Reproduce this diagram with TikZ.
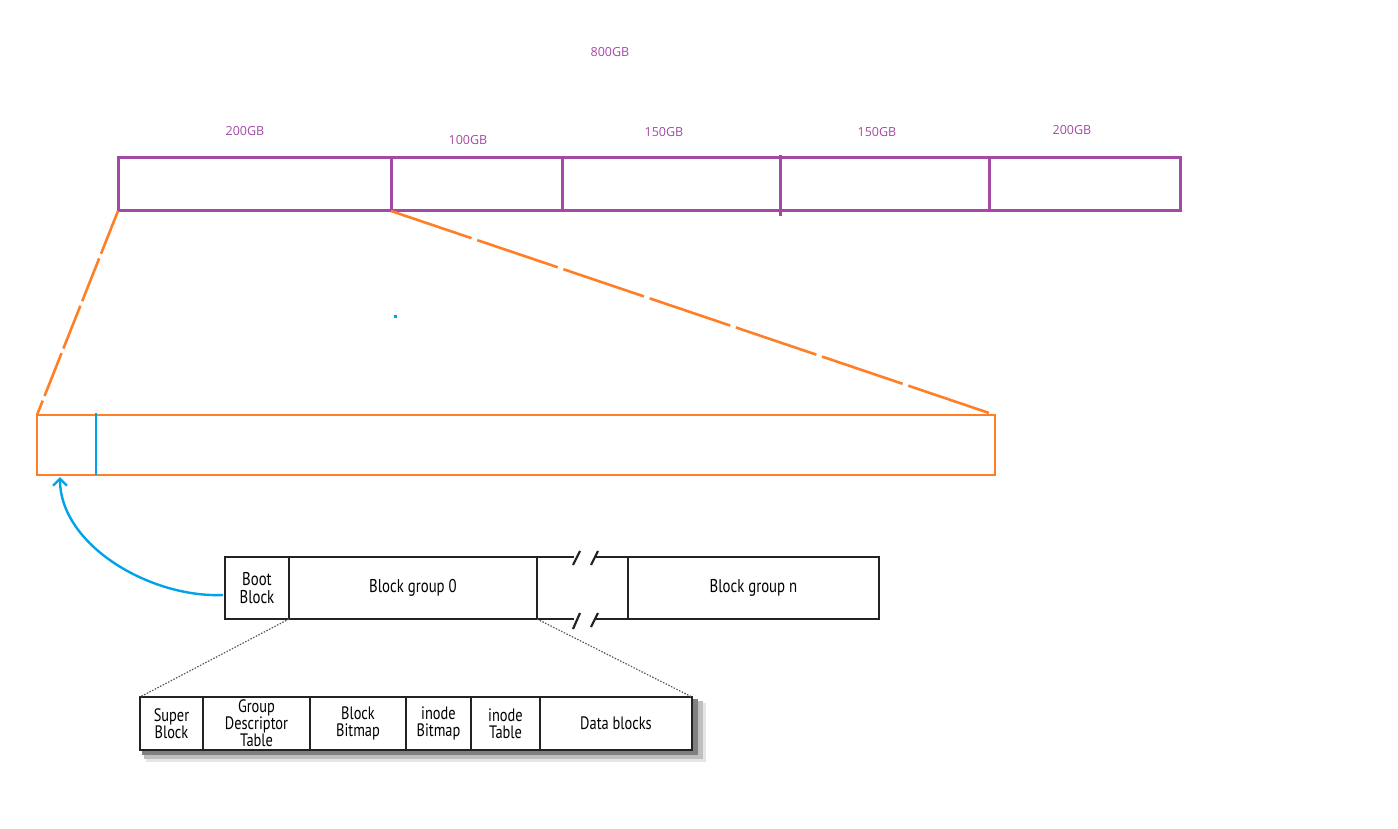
\documentclass[tikz,border=0pt]{standalone}
\usepackage{fontspec}
\setmainfont{Open Sans}
\newfontfamily\condfont[FakeStretch=0.8]{PT Sans}
\usetikzlibrary{arrows.meta,calc}
\definecolor{ppl}{HTML}{A349A4}
\definecolor{org}{HTML}{FF7F27}
\definecolor{blu}{HTML}{00A2E8}
\definecolor{ink}{HTML}{222222}
\begin{document}
\begin{tikzpicture}[x=1pt,y=-1pt,
  pseg/.style={draw=ppl,line width=3pt,inner sep=0,outer sep=0,minimum height=53pt,anchor=north west},
  plab/.style={text=ppl,font=\fontsize{12.5}{14}\selectfont,inner sep=0},
  bseg/.style={draw=ink,line width=2.2pt,inner sep=0,outer sep=0,anchor=north west,minimum height=62pt,
    font=\condfont\fontsize{18.5}{18}\selectfont,align=center},
  lseg/.style={bseg,minimum height=53pt,font=\condfont\fontsize{18}{17}\selectfont},
  brk/.style={draw=ink,line width=2.2pt},
  dots/.style={draw=ink!75,line width=1.2pt,dash pattern=on 1.5pt off 1.5pt}
]
\useasboundingbox (0,0) rectangle (1398,829);

% top partition bar
\node[pseg,minimum width=273pt] (p1) at (118,158) {};
\node[pseg,minimum width=171pt] (p2) at (391,158) {};
\node[pseg,minimum width=218pt] (p3) at (562,158) {};
\node[pseg,minimum width=209pt] (p4) at (780,158) {};
\node[pseg,minimum width=191pt] (p5) at (989,158) {};
\draw[ppl,line width=3pt] ($(p4.north west)+(0,-3)$) -- ($(p4.south west)+(0,5)$);

\node[plab] (l800) at (610,52) {800GB};
\node[plab] (l1) at (245,131) {200GB};
\node[plab] (l2) at (468,140) {100GB};
\node[plab] (l3) at (664,132) {150GB};
\node[plab] (l4) at (877,132) {150GB};
\node[plab] (l5) at (1072,130) {200GB};

% orange enlarged partition
\node[draw=org,line width=2.6pt,inner sep=0,outer sep=0,anchor=north west,
  minimum width=958pt,minimum height=60pt] (o) at (37,415) {};
\draw[blu,line width=2.4pt] ($(o.north west)+(59,-2)$) -- ($(o.south west)+(59,0)$);
\draw[org,line width=2.6pt,dash pattern=on 46pt off 5pt] (p1.south west) -- (o.north west);
\draw[org,line width=2.6pt,dash pattern=on 85pt off 6pt] (p1.south east) -- (o.north east);
\fill[blu] (394,315) rectangle (397,318);

% ext2 layout
\node[bseg,minimum width=64pt] (boot) at (225,557) {Boot\\Block};
\node[bseg,minimum width=248pt] (g0) at (289,557) {Block group 0};
\node[bseg,minimum width=251pt] (gn) at (628,557) {Block group n};
\coordinate (t1) at (574,557);
\coordinate (t2) at (596,557);
\coordinate (b1) at (574,619);
\coordinate (b2) at (596,619);
\draw[brk] (g0.north east) -- (t1) (t2) -- (gn.north west);
\draw[brk] (g0.south east) -- (b1) (b2) -- (gn.south west);
\draw[brk] ($(t1)+(-1,8)$) -- ($(t1)+(6,-6)$);
\draw[brk] ($(t2)+(-5,8)$) -- ($(t2)+(2,-6)$);
\draw[brk] ($(b1)+(-1,10)$) -- ($(b1)+(6,-6)$);
\draw[brk] ($(b2)+(-5,8)$) -- ($(b2)+(2,-6)$);

% boot block arrow
\coordinate (bt) at (60,477);
\draw[blu,line width=2.4pt,-{Straight Barb[length=7pt,width=14pt]}]
  ($(boot.west)+(-2,7)$) .. controls (150,598) and (60,545) .. (bt);

% block group detail with shadow
\fill[black!10] (146,703) rectangle (706,762);
\fill[black!25] (144,701) rectangle (703,759);
\fill[black!50] (142,699) rectangle (698,755);
\node[lseg,fill=white,minimum width=63pt] (sb) at (140,697) {Super\\Block};
\node[lseg,fill=white,minimum width=107pt] (gd) at (203,697) {Group\\Descriptor\\Table};
\node[lseg,fill=white,minimum width=96pt] (bb) at (310,697) {Block\\Bitmap};
\node[lseg,fill=white,minimum width=65pt] (ib) at (406,697) {inode\\Bitmap};
\node[lseg,fill=white,minimum width=69pt] (it) at (471,697) {inode\\Table};
\node[lseg,fill=white,minimum width=152pt] (db) at (540,697) {Data blocks};
\draw[dots] (boot.south east) -- (sb.north west);
\draw[dots] (g0.south east) -- (db.north east);
\end{tikzpicture}
\end{document}
